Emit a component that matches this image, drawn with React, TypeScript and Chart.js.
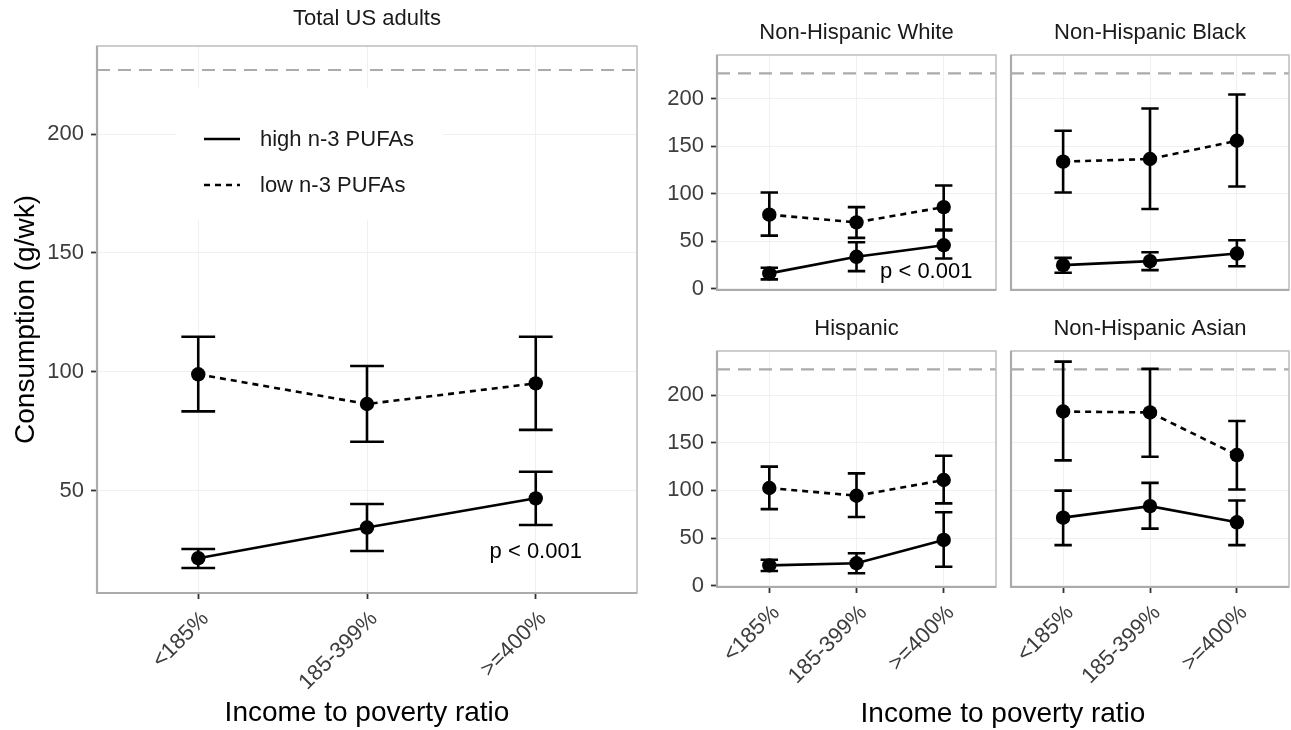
import React, { useEffect, useRef } from 'react';
import { Chart, registerables } from 'chart.js';

Chart.register(...registerables);

const FONT = '"Liberation Sans", Arial, Helvetica, sans-serif';
Chart.defaults.font.family = FONT;

// ---------- data ----------
const CATEGORIES = ['<185%', '185-399%', '>=400%'];
const CATEGORY_X = [1, 2, 3];
const SERIES_LABELS = ['high n-3 PUFAs', 'low n-3 PUFAs'];
const REFERENCE_VALUE = 227;
const LEFT_Y_TICKS = [50, 100, 150, 200];
const RIGHT_Y_TICKS = [0, 50, 100, 150, 200];
const P_TEXT = 'p < 0.001';
const X_TITLE = 'Income to poverty ratio';
const Y_TITLE = 'Consumption (g/wk)';
const PANEL_TITLES = ['Total US adults', 'Non-Hispanic White', 'Non-Hispanic Black', 'Hispanic', 'Non-Hispanic Asian'];

const TOTAL_HIGH = [21.5, 34.4, 46.7];
const TOTAL_HIGH_LO = [17.4, 24.5, 35.5];
const TOTAL_HIGH_HI = [25.4, 44.3, 57.9];
const TOTAL_LOW = [98.9, 86.4, 95.1];
const TOTAL_LOW_LO = [83.3, 70.5, 75.5];
const TOTAL_LOW_HI = [114.7, 102.4, 114.7];

const WHITE_HIGH = [16.1, 33.6, 45.8];
const WHITE_HIGH_LO = [9.8, 18.5, 31.8];
const WHITE_HIGH_HI = [22.0, 48.9, 61.5];
const WHITE_LOW = [78.0, 69.9, 86.0];
const WHITE_LOW_LO = [55.9, 53.5, 62.2];
const WHITE_LOW_HI = [101.4, 86.0, 108.7];

const BLACK_HIGH = [24.8, 29.0, 37.0];
const BLACK_HIGH_LO = [16.8, 19.5, 23.7];
const BLACK_HIGH_HI = [32.5, 38.4, 51.0];
const BLACK_LOW = [133.9, 136.7, 155.9];
const BLACK_LOW_LO = [101.4, 83.9, 107.7];
const BLACK_LOW_HI = [166.4, 189.9, 204.6];

const HISP_HIGH = [21.3, 23.5, 48.0];
const HISP_HIGH_LO = [15.4, 13.0, 19.9];
const HISP_HIGH_HI = [27.2, 34.0, 77.0];
const HISP_LOW = [102.5, 94.4, 110.9];
const HISP_LOW_LO = [80.3, 72.1, 86.4];
const HISP_LOW_HI = [124.9, 117.9, 136.4];

const ASIAN_HIGH = [71.4, 83.5, 66.5];
const ASIAN_HIGH_LO = [42.5, 59.9, 42.5];
const ASIAN_HIGH_HI = [99.8, 107.9, 89.4];
const ASIAN_LOW = [182.8, 181.8, 137.1];
const ASIAN_LOW_LO = [131.5, 135.3, 100.9];
const ASIAN_LOW_HI = [235.2, 227.5, 172.9];

// axis ranges
const LEFT_Y_RANGE = [6.85, 237.1];
const RIGHT_Y_RANGE = [-1.4, 246.3];
const X_RANGE = [0.4, 3.6];
const CAP_HALF = 0.1;

// ---------- layout ----------
type PanelDef = {
  title: string;
  canvas: { x: number; y: number; w: number; h: number };
  yWidth: number;
  padRight: number;
  topHeight: number;
  titlePadTop: number;
  xHeight: number;
  yRange: number[];
  yTicks: number[];
  xLabels: boolean;
  yLabels: boolean;
  xTitle: boolean;
  yTitle: boolean;
  legend: boolean;
  annotation: null | { x: number; y: number };
  high: number[]; highLo: number[]; highHi: number[];
  low: number[]; lowLo: number[]; lowHi: number[];
};

const PANELS: PanelDef[] = [
  {
    title: PANEL_TITLES[0], canvas: { x: 0, y: 0, w: 640, h: 730 }, yWidth: 97, padRight: 3,
    topHeight: 46, titlePadTop: 5.3, xHeight: 137, yRange: LEFT_Y_RANGE, yTicks: LEFT_Y_TICKS,
    xLabels: true, yLabels: true, xTitle: true, yTitle: true, legend: true, annotation: { x: 3, y: 24 },
    high: TOTAL_HIGH, highLo: TOTAL_HIGH_LO, highHi: TOTAL_HIGH_HI, low: TOTAL_LOW, lowLo: TOTAL_LOW_LO, lowHi: TOTAL_LOW_HI,
  },
  {
    title: PANEL_TITLES[1], canvas: { x: 645, y: 0, w: 358, h: 312 }, yWidth: 72, padRight: 7,
    topHeight: 55, titlePadTop: 19.3, xHeight: 22, yRange: RIGHT_Y_RANGE, yTicks: RIGHT_Y_TICKS,
    xLabels: false, yLabels: true, xTitle: false, yTitle: false, legend: false, annotation: { x: 2.8, y: 18 },
    high: WHITE_HIGH, highLo: WHITE_HIGH_LO, highHi: WHITE_HIGH_HI, low: WHITE_LOW, lowLo: WHITE_LOW_LO, lowHi: WHITE_LOW_HI,
  },
  {
    title: PANEL_TITLES[2], canvas: { x: 1003, y: 0, w: 288, h: 312 }, yWidth: 8, padRight: 2,
    topHeight: 55, titlePadTop: 19.3, xHeight: 22, yRange: RIGHT_Y_RANGE, yTicks: RIGHT_Y_TICKS,
    xLabels: false, yLabels: false, xTitle: false, yTitle: false, legend: false, annotation: null,
    high: BLACK_HIGH, highLo: BLACK_HIGH_LO, highHi: BLACK_HIGH_HI, low: BLACK_LOW, lowLo: BLACK_LOW_LO, lowHi: BLACK_LOW_HI,
  },
  {
    title: PANEL_TITLES[3], canvas: { x: 645, y: 310, w: 358, h: 420 }, yWidth: 72, padRight: 7,
    topHeight: 41, titlePadTop: 5.8, xHeight: 143, yRange: RIGHT_Y_RANGE, yTicks: RIGHT_Y_TICKS,
    xLabels: true, yLabels: true, xTitle: false, yTitle: false, legend: false, annotation: null,
    high: HISP_HIGH, highLo: HISP_HIGH_LO, highHi: HISP_HIGH_HI, low: HISP_LOW, lowLo: HISP_LOW_LO, lowHi: HISP_LOW_HI,
  },
  {
    title: PANEL_TITLES[4], canvas: { x: 1003, y: 310, w: 288, h: 420 }, yWidth: 8, padRight: 2,
    topHeight: 41, titlePadTop: 5.8, xHeight: 143, yRange: RIGHT_Y_RANGE, yTicks: RIGHT_Y_TICKS,
    xLabels: true, yLabels: false, xTitle: false, yTitle: false, legend: false, annotation: null,
    high: ASIAN_HIGH, highLo: ASIAN_HIGH_LO, highHi: ASIAN_HIGH_HI, low: ASIAN_LOW, lowLo: ASIAN_LOW_LO, lowHi: ASIAN_LOW_HI,
  },
];

const TICK_COLOR = '#3d3d3d';
const GRID_COLOR = '#F0F0F0';
const LOW_DASH = [6, 5];
const LINE_W = 2.6;

function errorBars(lo: number[], hi: number[]) {
  const pts: any[] = [];
  lo.forEach((l, i) => {
    const x = CATEGORY_X[i];
    const h = hi[i];
    pts.push(
      { x, y: l }, { x, y: h }, { x, y: null },
      { x: x - CAP_HALF, y: h }, { x: x + CAP_HALF, y: h }, { x: x + CAP_HALF, y: null },
      { x: x - CAP_HALF, y: l }, { x: x + CAP_HALF, y: l }, { x: x + CAP_HALF, y: null },
    );
  });
  return pts;
}

function makeExtras(p: PanelDef) {
  return {
    id: 'extras',
    afterDatasetsDraw(chart: any) {
      const { ctx, chartArea: a, scales } = chart;
      ctx.save();
      if (p.legend) {
        const bx = a.left + 79;
        const by = a.top + 42;
        ctx.fillStyle = '#ffffff';
        ctx.fillRect(bx, by, 267, 132);
        const rows = [by + 51, by + 97];
        rows.forEach((ry, i) => {
          ctx.strokeStyle = '#000';
          ctx.lineWidth = LINE_W;
          ctx.setLineDash(i === 0 ? [] : LOW_DASH);
          ctx.beginPath();
          ctx.moveTo(bx + 28, ry);
          ctx.lineTo(bx + 64, ry);
          ctx.stroke();
          ctx.setLineDash([]);
          ctx.fillStyle = '#1a1a1a';
          ctx.font = `22px ${FONT}`;
          ctx.textAlign = 'left';
          ctx.textBaseline = 'middle';
          ctx.fillText(SERIES_LABELS[i], bx + 84, ry + 1);
        });
      }
      if (p.annotation) {
        ctx.fillStyle = '#000';
        ctx.font = `22px ${FONT}`;
        ctx.textAlign = 'center';
        ctx.textBaseline = 'middle';
        ctx.fillText(P_TEXT, scales.x.getPixelForValue(p.annotation.x), scales.y.getPixelForValue(p.annotation.y));
      }
      // panel border
      ctx.setLineDash([]);
      ctx.strokeStyle = '#BDBDBD';
      ctx.lineWidth = 1.5;
      ctx.strokeRect(a.left, a.top, a.right - a.left, a.bottom - a.top);
      ctx.strokeStyle = '#ABABAB';
      ctx.lineWidth = 2.2;
      ctx.beginPath();
      ctx.moveTo(a.left, a.top);
      ctx.lineTo(a.left, a.bottom);
      ctx.lineTo(a.right, a.bottom);
      ctx.stroke();
      ctx.restore();
    },
  };
}

function buildConfig(p: PanelDef): any {
  const seriesBase = {
    xAxisID: 'x', yAxisID: 'y',
    borderColor: '#000', backgroundColor: '#000', borderWidth: LINE_W,
    pointRadius: 7.2, pointBorderWidth: 0, pointBackgroundColor: '#000', tension: 0, order: 0,
  };
  const barBase = {
    xAxisID: 'x', yAxisID: 'y',
    borderColor: '#000', borderWidth: LINE_W, pointRadius: 0, borderCapStyle: 'butt', spanGaps: false, order: 1,
  };
  return {
    type: 'line',
    data: {
      datasets: [
        { ...seriesBase, label: SERIES_LABELS[0], data: p.high.map((y, i) => ({ x: CATEGORY_X[i], y })) },
        { ...seriesBase, label: SERIES_LABELS[1], data: p.low.map((y, i) => ({ x: CATEGORY_X[i], y })), borderDash: LOW_DASH },
        { ...barBase, label: 'eb-high', data: errorBars(p.highLo, p.highHi) },
        { ...barBase, label: 'eb-low', data: errorBars(p.lowLo, p.lowHi) },
        {
          xAxisID: 'x', yAxisID: 'y', label: 'reference', order: 2,
          data: [{ x: X_RANGE[0], y: REFERENCE_VALUE }, { x: X_RANGE[1], y: REFERENCE_VALUE }],
          borderColor: '#ABABAB', borderDash: [13, 8], borderWidth: 2.2, pointRadius: 0,
        },
      ],
    },
    options: {
      animation: false,
      responsive: false,
      events: [],
      layout: { autoPadding: false, padding: { left: 0, top: 0, right: p.padRight, bottom: 0 } },
      plugins: { legend: { display: false }, tooltip: { enabled: false }, title: { display: false } },
      scales: {
        x: {
          type: 'linear', position: 'bottom', min: X_RANGE[0], max: X_RANGE[1],
          afterBuildTicks: (s: any) => { s.ticks = CATEGORY_X.map((v) => ({ value: v })); },
          ticks: {
            display: p.xLabels, autoSkip: false, minRotation: 45, maxRotation: 45, padding: 7, labelOffset: 7,
            font: { family: FONT, size: 22 }, color: TICK_COLOR,
            callback: (v: number) => CATEGORIES[CATEGORY_X.indexOf(v)],
          },
          grid: { color: GRID_COLOR, lineWidth: 1, drawTicks: p.xLabels, tickLength: 6, tickColor: '#333', tickWidth: 1.8 },
          border: { display: false },
          title: { display: p.xTitle, text: X_TITLE, font: { family: FONT, size: 28 }, color: '#000', padding: { top: 0, bottom: 0 } },
          afterFit: (s: any) => { s.height = p.xHeight; },
        },
        xTop: {
          type: 'linear', position: 'top', min: X_RANGE[0], max: X_RANGE[1],
          ticks: { display: false },
          grid: { display: false, drawTicks: false },
          border: { display: false },
          title: { display: true, text: p.title, font: { family: FONT, size: 22 }, color: '#1a1a1a', padding: { top: p.titlePadTop, bottom: 0 } },
          afterFit: (s: any) => { s.height = p.topHeight; },
        },
        y: {
          type: 'linear', position: 'left', min: p.yRange[0], max: p.yRange[1],
          afterBuildTicks: (s: any) => { s.ticks = p.yTicks.map((v) => ({ value: v })); },
          ticks: { display: p.yLabels, padding: 7, font: { family: FONT, size: 22 }, color: TICK_COLOR },
          grid: { color: GRID_COLOR, lineWidth: 1, drawTicks: p.yLabels, tickLength: 6, tickColor: '#333', tickWidth: 1.8 },
          border: { display: false },
          title: { display: p.yTitle, text: Y_TITLE, font: { family: FONT, size: 28 }, color: '#000', padding: { top: 9, bottom: 0 } },
          afterFit: (s: any) => { s.width = p.yWidth; },
        },
      },
    },
    plugins: [makeExtras(p)],
  };
}

function Panel({ p }: { p: PanelDef }) {
  const ref = useRef<HTMLCanvasElement | null>(null);
  useEffect(() => {
    if (!ref.current) return;
    const chart = new Chart(ref.current, buildConfig(p));
    return () => chart.destroy();
  }, [p]);
  return (
    <canvas
      ref={ref}
      width={p.canvas.w}
      height={p.canvas.h}
      style={{ position: 'absolute', left: p.canvas.x, top: p.canvas.y, width: p.canvas.w, height: p.canvas.h }}
    />
  );
}

export default function App() {
  return (
    <div style={{ position: 'fixed', left: 0, top: 0, width: 1291, height: 730, background: '#ffffff', overflow: 'hidden' }}>
      {PANELS.map((p) => <Panel key={p.title} p={p} />)}
      <div
        style={{
          position: 'absolute', left: 717, width: 1289 - 717, top: 696, height: 34, lineHeight: '34px',
          textAlign: 'center', fontFamily: FONT, fontSize: 28, color: '#000', whiteSpace: 'nowrap',
        }}
      >
        {X_TITLE}
      </div>
    </div>
  );
}
